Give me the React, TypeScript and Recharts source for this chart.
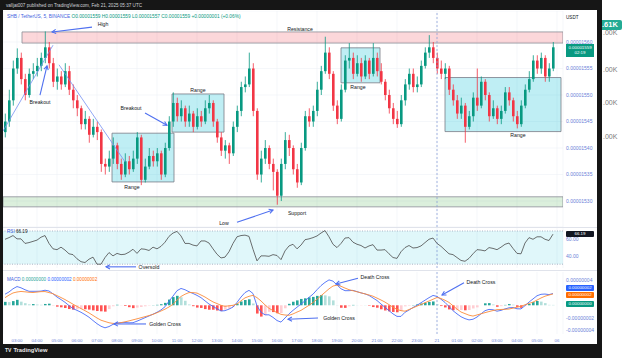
import React from 'react';
import {
  ComposedChart,
  Bar,
  Line,
  XAxis,
  YAxis,
  CartesianGrid,
  ReferenceArea,
  ReferenceLine,
  ReferenceDot,
  Cell,
} from 'recharts';

// 12-minute candles, price in units of 1e-8 USDT
const START_HOUR = 2.4;
const STEP_HOURS = 0.2;
const FIRST_OPEN = 1543;

const CLOSE = [
  1545, 1549, 1555, 1557, 1553, 1550, 1554, 1554.5, 1555.5, 1557,
  1559, 1556, 1552.5, 1553.5, 1552, 1554.5, 1551, 1549, 1547.5, 1544.5,
  1545.5, 1542.5, 1544, 1543, 1537, 1536.5, 1538, 1540.5, 1537, 1535,
  1537.5, 1536, 1538, 1542, 1534, 1536.5, 1538.5, 1537.5, 1539, 1535,
  1540, 1545, 1548.5, 1546, 1547.5, 1545, 1546.5, 1544, 1546, 1545,
  1547.5, 1548.5, 1545, 1542, 1539.5, 1540.5, 1539, 1544, 1547, 1551.5,
  1552, 1555, 1547, 1535, 1538, 1540, 1537, 1535.5, 1531, 1537,
  1541.5, 1540, 1536, 1533.5, 1540, 1546, 1545, 1547, 1551, 1554.5,
  1558, 1554, 1548, 1545.5, 1551, 1556.5, 1557, 1554, 1556, 1553.5,
  1556.5, 1554, 1557, 1554.5, 1552.5, 1550, 1547.5, 1545.5, 1544.5, 1549,
  1552, 1554, 1551.5, 1552, 1555.5, 1558, 1559, 1557, 1555, 1554,
  1555, 1551, 1549, 1546.5, 1548, 1544, 1546, 1549.5, 1548, 1552.5,
  1550, 1546, 1547.5, 1545.5, 1547, 1550.5, 1549, 1546, 1544.5, 1548,
  1551, 1553, 1556.5, 1555, 1557, 1553.5, 1555, 1559,
];

const HIGH = [
  1546.5, 1551, 1556.5, 1558.8, 1558, 1554, 1555, 1556, 1557, 1558,
  1562, 1560, 1557, 1555, 1554.5, 1556, 1555.5, 1552, 1550, 1548,
  1547, 1546, 1545.5, 1545, 1543.5, 1538, 1539.5, 1542, 1541, 1538,
  1539, 1538.5, 1539.5, 1543, 1542.5, 1538, 1540, 1539.5, 1540, 1539.5,
  1541, 1546, 1550.5, 1549.5, 1549, 1548, 1548, 1547, 1547.5, 1547,
  1549, 1550, 1549, 1545.5, 1543, 1541.5, 1541, 1545, 1548, 1552.5,
  1553.5, 1558, 1556, 1547.5, 1539.5, 1541.5, 1540.5, 1538, 1536, 1538,
  1543, 1542.5, 1540.5, 1537, 1541, 1547, 1547.5, 1548, 1552.5, 1555.5,
  1561, 1559, 1554.5, 1549, 1552, 1557.5, 1559.8, 1558, 1557.5, 1557,
  1557.5, 1557, 1559.8, 1558, 1556, 1553, 1551, 1548.5, 1547, 1550,
  1553, 1555, 1555, 1553.5, 1556.5, 1559, 1561.3, 1560, 1558, 1556.5,
  1556, 1555.5, 1552, 1550, 1549.5, 1548.5, 1547, 1550.5, 1555, 1553.5,
  1553, 1550.5, 1549, 1548, 1548, 1551.5, 1551.5, 1549.5, 1547, 1549,
  1552, 1554.5, 1557.5, 1557.5, 1558, 1557.5, 1556, 1560,
];

const LOW = [
  1542, 1544, 1548, 1554, 1552, 1549, 1549.5, 1553, 1553.5, 1554.5,
  1556, 1555, 1551.5, 1551, 1551, 1551.5, 1550, 1547.5, 1546, 1543.5,
  1543.5, 1541, 1542, 1541.5, 1535.5, 1535, 1535.5, 1537, 1536, 1534,
  1534.5, 1535, 1535.5, 1537, 1533, 1533.5, 1536, 1536.5, 1536.5, 1534,
  1534.5, 1539.5, 1544, 1545, 1545, 1544, 1544, 1543, 1543.5, 1544,
  1544.5, 1546.5, 1544, 1541, 1538.5, 1538, 1537, 1538.5, 1543, 1546,
  1550.5, 1551.5, 1546, 1534, 1533.5, 1537, 1536, 1532, 1529.3, 1530,
  1536, 1538.5, 1535, 1532.5, 1533, 1539.5, 1544, 1544, 1546, 1550,
  1554, 1553, 1547, 1544.5, 1545, 1550.5, 1555, 1553, 1553.5, 1552.5,
  1553, 1553, 1553.5, 1553.5, 1552, 1549, 1546.5, 1544.5, 1543.8, 1544,
  1548, 1551, 1550.5, 1550.5, 1551.5, 1555, 1557, 1556, 1554, 1553,
  1553, 1550, 1548, 1545.5, 1545.5, 1541, 1543.5, 1545, 1547, 1547.5,
  1549, 1545, 1545.5, 1544.5, 1544.5, 1546.5, 1548, 1545, 1543.7, 1544,
  1547.5, 1550.5, 1552.5, 1554, 1554, 1552.5, 1552.5, 1554.5,
];

const RSI = [
  60, 62, 64.5, 60.5, 60.5, 55, 56, 57.5, 59, 62.5,
  64.5, 55, 48.5, 47.5, 50.5, 47, 42.5, 41.5, 36.5, 33,
  32, 36, 38.5, 30, 30, 38, 44, 40, 43, 41.5,
  42, 44.5, 48, 43, 48.5, 48, 46.5, 50.5, 48.5, 51.5,
  56.5, 63.5, 67.5, 69.5, 64, 55, 55, 53, 52, 58,
  58, 55.5, 48.5, 42, 37.5, 38.5, 45, 55, 63, 64.5,
  65, 63.5, 48, 34, 40, 40, 39.5, 41.5, 40.5, 35.5,
  46, 52, 54, 48.5, 53, 59.5, 60.5, 62, 64, 67.5,
  70.5, 63, 54, 50, 55, 61.5, 62, 56.5, 54, 52.5,
  49.5, 52, 53.5, 47, 47, 47.5, 42.5, 38, 37, 45,
  50, 52.5, 49.5, 50, 52, 56, 60, 61.5, 55, 51.5,
  47, 42.5, 41.5, 38, 34.5, 33.5, 37, 42.5, 47.5, 47,
  46, 50, 49, 47.5, 50.5, 54, 55.5, 49, 43, 42.5,
  55.5, 62, 60, 63, 63, 60, 58.5, 66.2,
];

// MACD and signal in units of 1e-8
const MACD = [
  1.74, 2.1, 2.6, 2.95, 2.75, 2.45, 2.2, 2.2, 2.2, 2.23,
  2.37, 2.25, 1.8, 1.3, 0.9, 0.47, -0.05, -0.52, -0.8, -1.1,
  -1.47, -1.88, -2.4, -2.9, -3.3, -3.55, -3.35, -3.0, -2.79, -2.74,
  -2.71, -2.76, -2.74, -2.5, -2.23, -1.95, -1.68, -1.4, -1.1, -0.73,
  -0.23, 0.64, 1.45, 2.3, 2.65, 2.45, 2.13, 1.86, 1.56, 1.2,
  0.7, 0.2, -0.17, -0.55, -0.9, -0.85, -0.6, -0.28, 0.45, 1.3,
  2.0, 2.35, 1.85, -0.1, -1.1, -1.5, -1.5, -1.9, -2.4, -2.65,
  -2.0, -1.35, -0.8, -0.3, 0.2, 0.7, 1.25, 1.75, 2.45, 3.1,
  3.6, 4.0, 3.8, 3.2, 2.6, 2.3, 2.3, 2.35, 2.15, 1.95,
  1.8, 1.55, 1.15, 0.75, 0.2, -0.32, -0.85, -1.35, -1.75, -1.75,
  -1.1, -0.75, -0.35, 0.0, 0.4, 0.8, 1.2, 1.55, 1.4, 0.95,
  0.45, -0.2, -0.85, -1.35, -1.8, -2.1, -2.3, -2.2, -1.85, -1.35,
  -0.85, -0.65, -0.7, -0.93, -0.8, -0.57, -0.4, -0.35, -0.55, -0.57,
  -0.05, 0.5, 1.0, 1.5, 1.73, 1.77, 1.68, 1.85,
];

const SIGNAL = [
  1.2, 1.6, 1.94, 2.09, 2.18, 2.12, 2.05, 2.01, 2.08, 2.15,
  2.16, 2.0, 1.82, 1.52, 1.22, 0.9, 0.54, 0.17, -0.18, -0.52,
  -0.85, -1.2, -1.6, -2.0, -2.35, -2.55, -2.75, -2.85, -2.87, -2.73,
  -2.6, -2.46, -2.29, -2.13, -1.96, -1.79, -1.62, -1.43, -1.17, -0.9,
  -0.61, -0.26, 0.16, 0.81, 1.39, 1.74, 2.0, 2.0, 1.92, 1.62,
  1.3, 0.9, 0.53, 0.27, 0.0, -0.17, -0.08, 0.0, 0.2, 0.7,
  1.17, 1.41, 1.57, 1.2, 0.68, 0.06, -0.48, -0.83, -1.15, -1.43,
  -1.53, -1.58, -1.36, -1.07, -0.8, -0.4, 0.0, 0.43, 0.97, 1.5,
  2.04, 2.59, 3.03, 3.17, 2.99, 2.71, 2.46, 2.29, 2.13, 1.96,
  1.79, 1.62, 1.43, 1.13, 0.83, 0.5, 0.1, -0.3, -0.65, -0.85,
  -0.93, -0.67, -0.4, -0.13, 0.13, 0.4, 0.67, 0.95, 1.23, 1.07,
  0.79, 0.45, -0.07, -0.6, -1.06, -1.31, -1.56, -1.7, -1.52, -1.34,
  -1.16, -0.99, -0.83, -0.69, -0.66, -0.63, -0.59, -0.45, -0.3, -0.17,
  0.08, 0.29, 0.5, 0.82, 1.15, 1.43, 1.61, 1.79,
];

const HOURS = [3, 4, 5, 6, 7, 8, 9, 10, 11, 12, 13, 14, 15, 16, 17, 18, 19, 20, 21, 22, 23, 24, 25, 26, 27, 28, 29, 30];
const TIME_LABELS = [
  '03:00', '04:00', '05:00', '06:00', '07:00', '08:00', '09:00', '10:00', '11:00', '12:00', '13:00',
  '14:00', '15:00', '16:00', '17:00', '18:00', '19:00', '20:00', '21:00', '22:00', '23:00', '21',
  '01:00', '02:00', '03:00', '04:00', '05:00', '06',
];
const PRICE_TICKS = [1530, 1535, 1540, 1545, 1550, 1555, 1560];
const RSI_TICKS = [40, 60];
const MACD_TICKS = [-4, -2, 4];

// drawings: [t1, t2, low, high]
const RANGE_BOXES = [
  [7.75, 10.85, 1533.6, 1542.8],
  [10.75, 13.35, 1543.0, 1550.2],
  [19.2, 21.15, 1552.3, 1558.9],
  [24.4, 30.2, 1543.1, 1553.3],
];
const TRENDLINES = [
  [2.3, 1543.2, 4.8, 1559.4],
  [5.1, 1555.7, 8.4, 1537.4],
];
const PRICE_ARROWS = [
  [6.75, 1562.8, 4.75, 1561.9],
  [4.15, 1550.0, 4.5, 1555.5],
  [9.4, 1546.6, 10.5, 1544.3],
  [14.0, 1526.0, 15.8, 1528.3],
];
const PRICE_NOTES: [string, number, number][] = [
  ['High', 7.3, 1563.4],
  ['Resistance', 17.15, 1562.45],
  ['Breakout', 4.15, 1548.7],
  ['Breakout', 8.7, 1547.5],
  ['Range', 8.75, 1532.6],
  ['Range', 12.05, 1550.9],
  ['Range', 20.05, 1551.5],
  ['Range', 28.05, 1542.5],
  ['Low', 13.35, 1525.8],
  ['Support', 17.0, 1527.7],
];
const MACD_ARROWS = [
  [9.45, -2.94, 7.85, -2.94],
  [18.05, -2.0, 16.55, -2.2],
  [20.05, 4.25, 18.95, 3.35],
  [25.35, 3.56, 24.25, 1.62],
];
const MACD_NOTES: [string, number, number][] = [
  ['Golden Cross', 10.4, -2.94],
  ['Golden Cross', 19.1, -2.0],
  ['Death Cross', 20.9, 4.46],
  ['Death Cross', 26.2, 3.67],
];

const FONT = "'Liberation Sans', Arial, sans-serif";
const DARK = '#161616';
const AXIS_C = '#6c7fd8';
const UP = '#089981';
const DOWN = '#f23645';
const ARROW_C = '#4f70f0';
const X_DOMAIN = [2.3, 30.3];

const rows = CLOSE.map((close, i) => ({
  t: START_HOUR + i * STEP_HOURS,
  open: i === 0 ? FIRST_OPEN : CLOSE[i - 1],
  close,
  high: HIGH[i],
  low: LOW[i],
  range: [LOW[i], HIGH[i]],
  rsi: RSI[i],
  macd: MACD[i],
  signal: SIGNAL[i],
  hist: MACD[i] - SIGNAL[i],
}));

function histColor(i: number) {
  const h = rows[i].hist;
  const prev = i ? rows[i - 1].hist : h;
  if (h >= 0) return h >= prev ? '#26a69a' : '#b2dfdb';
  return h < prev ? '#ff5252' : '#ffcdd2';
}

const Candle = (props: any) => {
  const { x, y, width, height, payload } = props;
  if (!payload) return null;
  const { open, close, high, low } = payload;
  const top = height < 0 ? y + height : y;
  const h = Math.abs(height);
  const k = high === low ? 0 : h / (high - low);
  const yo = top + (high - open) * k;
  const yc = top + (high - close) * k;
  const color = close >= open ? UP : DOWN;
  const cx = x + width / 2;
  return (
    <g>
      <line x1={cx} x2={cx} y1={top} y2={top + h} stroke={color} strokeWidth={0.8} />
      <rect x={x} y={Math.min(yo, yc)} width={width} height={Math.max(Math.abs(yc - yo), 0.8)} fill={color} />
    </g>
  );
};

const Arrow = (p: any) => {
  const { x1, y1, x2, y2 } = p;
  const ang = Math.atan2(y2 - y1, x2 - x1);
  const L = 4.5;
  const a1 = ang + Math.PI - 0.5;
  const a2 = ang + Math.PI + 0.5;
  return (
    <g>
      <line x1={x1} y1={y1} x2={x2} y2={y2} stroke={ARROW_C} strokeWidth={1.1} />
      <polyline
        points={`${x2 + L * Math.cos(a1)},${y2 + L * Math.sin(a1)} ${x2},${y2} ${x2 + L * Math.cos(a2)},${y2 + L * Math.sin(a2)}`}
        fill="none"
        stroke={ARROW_C}
        strokeWidth={1.1}
      />
    </g>
  );
};

const note = (text: string, size = 5.2) => (p: any) => (
  <text x={p.cx} y={p.cy} textAnchor="middle" dominantBaseline="central" fontSize={size} fill="#131722" fontFamily={FONT}>
    {text}
  </text>
);

const fmt8 = (v: number) => (v / 1e8).toFixed(8);
const axisTick = { fontSize: 5, fill: AXIS_C, fontFamily: FONT };

function Badge({ top, bg, children }: { top: number; bg: string; children: React.ReactNode }) {
  return (
    <div
      style={{
        position: 'absolute', left: 566, top, width: 28, height: 5.6, background: bg, color: '#fff',
        fontSize: 4.4, lineHeight: '5.6px', textAlign: 'center', borderRadius: 1,
      }}
    >
      {children}
    </div>
  );
}

export default function App() {
  return (
    <div style={{ position: 'fixed', left: 0, top: 0, width: 624, height: 358, background: '#fff', overflow: 'hidden', fontFamily: FONT }}>
      {/* dark frame of the screenshot */}
      <div style={{ position: 'absolute', left: 0, top: 0, width: 602, height: 10, background: DARK }} />
      <div style={{ position: 'absolute', left: 0, top: 0, width: 3, height: 358, background: DARK }} />
      <div style={{ position: 'absolute', left: 597, top: 0, width: 5, height: 358, background: DARK }} />
      <div style={{ position: 'absolute', left: 0, top: 344, width: 602, height: 14, background: DARK }} />
      <div style={{ position: 'absolute', left: 6, top: 2.6, fontSize: 4.6, color: '#cfd2d8', whiteSpace: 'nowrap' }}>
        valljat007 published on TradingView.com, Feb 21, 2025 05:37 UTC
      </div>
      <div style={{ position: 'absolute', left: 5, top: 347, fontSize: 5.8, color: '#e8e8e8', whiteSpace: 'nowrap', fontWeight: 700 }}>
        <span style={{ fontSize: 5, marginRight: 2 }}>TV</span>TradingView
      </div>

      {/* neighbouring chart cut off on the right */}
      <div style={{ position: 'absolute', left: 602, top: 20, width: 20, height: 10, background: '#22ab94', color: '#fff', fontSize: 7.5, fontWeight: 700, lineHeight: '10px', borderRadius: '0 2px 2px 0' }}>.61K</div>
      {[33, 70, 103, 137].map((y) => (
        <div key={y} style={{ position: 'absolute', left: 603, top: y - 4, fontSize: 7, color: '#7d7d7d' }}>.00K</div>
      ))}

      {/* price pane */}
      <div style={{ position: 'absolute', left: 3, top: 11 }}>
        <ComposedChart width={594} height={216} data={rows} margin={{ top: 0, right: 0, bottom: 0, left: 0 }}>
          <CartesianGrid stroke="#eef1f6" strokeWidth={0.6} />
          <XAxis dataKey="t" type="number" domain={X_DOMAIN} ticks={HOURS} hide allowDataOverflow />
          <YAxis
            orientation="right"
            width={34}
            domain={[1525.1, 1565.85]}
            ticks={PRICE_TICKS}
            tickFormatter={fmt8}
            tick={axisTick}
            tickSize={0}
            tickMargin={3}
            axisLine={false}
            tickLine={false}
            allowDataOverflow
          />
          <ReferenceArea x1={3.25} x2={30.3} y1={1559.8} y2={1561.9} fill="rgba(242,54,69,0.2)" fillOpacity={1} stroke="#8a8d96" strokeWidth={0.8} ifOverflow="hidden" />
          <ReferenceArea x1={2.3} x2={30.3} y1={1528.9} y2={1530.8} fill="rgba(76,175,80,0.2)" fillOpacity={1} stroke="#8a8d96" strokeWidth={0.8} ifOverflow="hidden" />
          {RANGE_BOXES.map((b, i) => (
            <ReferenceArea key={i} x1={b[0]} x2={b[1]} y1={b[2]} y2={b[3]} fill="rgba(0,188,212,0.25)" fillOpacity={1} stroke="#787b86" strokeWidth={0.8} ifOverflow="hidden" />
          ))}
          <ReferenceLine x={24} stroke="#8ea3d9" strokeDasharray="2 2" strokeWidth={0.8} />
          <Bar dataKey="range" barSize={2.6} shape={Candle} isAnimationActive={false} />
          {TRENDLINES.map((s, i) => (
            <ReferenceLine key={i} segment={[{ x: s[0], y: s[1] }, { x: s[2], y: s[3] }]} stroke="#7590f2" strokeWidth={0.8} ifOverflow="visible" />
          ))}
          {PRICE_ARROWS.map((s, i) => (
            <ReferenceLine key={i} segment={[{ x: s[0], y: s[1] }, { x: s[2], y: s[3] }]} shape={Arrow} ifOverflow="visible" />
          ))}
          {PRICE_NOTES.map(([text, x, y], i) => (
            <ReferenceDot key={i} x={x} y={y} r={0} shape={note(text)} ifOverflow="visible" />
          ))}
        </ComposedChart>
      </div>
      <div style={{ position: 'absolute', left: 7, top: 13.5, fontSize: 4.8, whiteSpace: 'nowrap', color: '#3f63e0' }}>
        SHB / TetherUS, 5, BINANCE{'  '}
        <span style={{ color: UP }}>O0.00001559 H0.00001559 L0.00001557 C0.00001559 +0.00000001 (+0.06%)</span>
      </div>
      <div style={{ position: 'absolute', left: 566, top: 14.5, fontSize: 4.6, color: '#131722' }}>USDT</div>
      <div style={{ position: 'absolute', left: 566, top: 44, width: 28, height: 12, background: UP, color: '#fff', fontSize: 4.4, lineHeight: '5.4px', paddingTop: 0.6, textAlign: 'center' }}>
        0.00001559<br />02:19
      </div>

      <div style={{ position: 'absolute', left: 3, top: 227, width: 594, height: 1, background: '#e0e3eb' }} />

      {/* RSI pane */}
      <div style={{ position: 'absolute', left: 3, top: 228 }}>
        <ComposedChart width={594} height={42} data={rows} margin={{ top: 0, right: 0, bottom: 2, left: 0 }}>
          <CartesianGrid stroke="#eef1f6" strokeWidth={0.6} horizontal={false} />
          <XAxis dataKey="t" type="number" domain={X_DOMAIN} ticks={HOURS} hide allowDataOverflow />
          <YAxis
            orientation="right"
            width={34}
            domain={[25.4, 73.6]}
            ticks={RSI_TICKS}
            tickFormatter={(v: number) => v.toFixed(2)}
            tick={axisTick}
            tickSize={0}
            tickMargin={3}
            axisLine={false}
            tickLine={false}
            allowDataOverflow
          />
          <ReferenceArea y1={30} y2={70} fill="rgba(0,188,212,0.12)" fillOpacity={1} stroke="none" ifOverflow="hidden" />
          <ReferenceLine y={70} stroke="#9aa3b8" strokeDasharray="1 1.5" strokeWidth={0.8} />
          <ReferenceLine y={30} stroke="#9aa3b8" strokeDasharray="1 1.5" strokeWidth={0.8} />
          <ReferenceLine x={24} stroke="#8ea3d9" strokeDasharray="2 2" strokeWidth={0.8} />
          <Line dataKey="rsi" stroke="#4a4a4a" strokeWidth={0.8} dot={false} isAnimationActive={false} />
          <ReferenceLine segment={[{ x: 8.95, y: 26.8 }, { x: 7.45, y: 26.8 }]} shape={Arrow} ifOverflow="visible" />
          <ReferenceDot x={9.6} y={26.8} r={0} shape={note('Oversold')} ifOverflow="visible" />
        </ComposedChart>
      </div>
      <div style={{ position: 'absolute', left: 7, top: 229, fontSize: 4.6, whiteSpace: 'nowrap', color: '#3f63e0' }}>
        RSI <span style={{ color: '#131722' }}>66.19</span>
      </div>
      <Badge top={231.3} bg="#131722">66.19</Badge>

      <div style={{ position: 'absolute', left: 3, top: 270, width: 594, height: 1, background: '#e0e3eb' }} />

      {/* MACD pane */}
      <div style={{ position: 'absolute', left: 3, top: 272 }}>
        <ComposedChart width={594} height={72} data={rows} margin={{ top: 0, right: 0, bottom: 0, left: 0 }}>
          <CartesianGrid stroke="#eef1f6" strokeWidth={0.6} horizontal={false} />
          <XAxis
            dataKey="t"
            type="number"
            domain={X_DOMAIN}
            ticks={HOURS}
            interval={0}
            height={10}
            tickFormatter={(h: number) => TIME_LABELS[HOURS.indexOf(h)] ?? ''}
            tick={{ fontSize: 4.4, fill: AXIS_C, fontFamily: FONT }}
            tickSize={0}
            tickMargin={4.5}
            axisLine={false}
            tickLine={false}
            allowDataOverflow
          />
          <YAxis
            orientation="right"
            width={34}
            domain={[-4.52, 5.24]}
            ticks={MACD_TICKS}
            tickFormatter={fmt8}
            tick={axisTick}
            tickSize={0}
            tickMargin={3}
            axisLine={false}
            tickLine={false}
            allowDataOverflow
          />
          <ReferenceLine x={24} stroke="#8ea3d9" strokeDasharray="2 2" strokeWidth={0.8} />
          <Bar dataKey="hist" barSize={2.6} isAnimationActive={false}>
            {rows.map((_, i) => (
              <Cell key={i} fill={histColor(i)} />
            ))}
          </Bar>
          <Line dataKey="macd" stroke="#4a6cf7" strokeWidth={0.9} dot={false} isAnimationActive={false} />
          <Line dataKey="signal" stroke="#fb8c3c" strokeWidth={0.9} dot={false} isAnimationActive={false} />
          {MACD_ARROWS.map((s, i) => (
            <ReferenceLine key={i} segment={[{ x: s[0], y: s[1] }, { x: s[2], y: s[3] }]} shape={Arrow} ifOverflow="visible" />
          ))}
          {MACD_NOTES.map(([text, x, y], i) => (
            <ReferenceDot key={i} x={x} y={y} r={0} shape={note(text)} ifOverflow="visible" />
          ))}
        </ComposedChart>
      </div>
      <div style={{ position: 'absolute', left: 7, top: 276.6, fontSize: 4.6, whiteSpace: 'nowrap', color: '#3f63e0' }}>
        MACD <span style={{ color: '#26a69a' }}>0.00000000</span> <span style={{ color: '#2962ff' }}>0.00000002</span>{' '}
        <span style={{ color: '#ff6d00' }}>0.00000002</span>
      </div>
      <Badge top={285.3} bg="#2962ff">0.00000002</Badge>
      <Badge top={292.3} bg="#ff6d00">0.00000002</Badge>
      <Badge top={301.4} bg={UP}>0.00000000</Badge>
    </div>
  );
}
